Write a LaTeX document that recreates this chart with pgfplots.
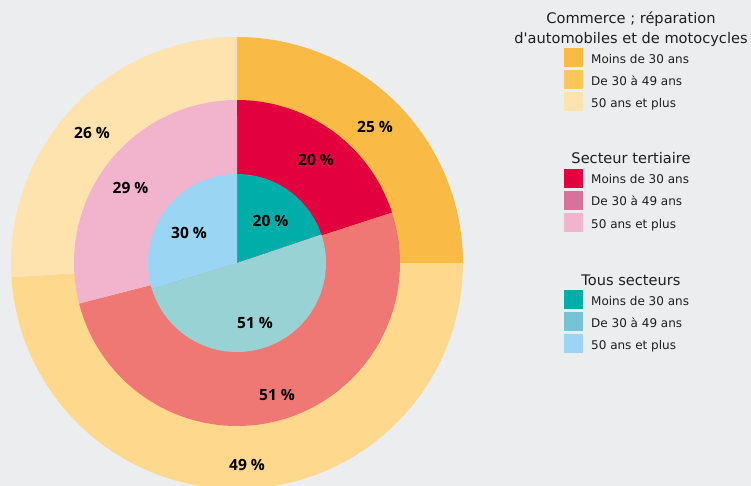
\documentclass[border=0pt]{standalone}
\usepackage{pgfplots}
\pgfplotsset{compat=1.18}
\usepackage{fontspec}
\setmainfont{DejaVu Sans}[Ligatures=TeXOff]
\newfontfamily\pctfont{Open Sans}

\definecolor{bg}{HTML}{ECEDEF}
\definecolor{txt}{HTML}{1E1E1E}
% Commerce ; reparation d'automobiles et de motocycles
\definecolor{comA}{HTML}{F9BB45}
\definecolor{comB}{HTML}{FED98D}
\definecolor{comBleg}{HTML}{FDC65A}
\definecolor{comC}{HTML}{FEE3AE}
% Secteur tertiaire
\definecolor{terA}{HTML}{E3003F}
\definecolor{terB}{HTML}{EF7874}
\definecolor{terBleg}{HTML}{D9729B}
\definecolor{terC}{HTML}{F2B3CC}
% Tous secteurs
\definecolor{touA}{HTML}{00ADA8}
\definecolor{touB}{HTML}{98D2D4}
\definecolor{touBleg}{HTML}{76C3D7}
\definecolor{touC}{HTML}{9AD5F3}

% one slice: radius, cumulative start, cumulative end, ring total, colour
\newcommand{\slice}[5]{%
  \pgfmathsetmacro\da{#2/#4*360}%
  \pgfmathsetmacro\db{#3/#4*360}%
  \edef\tmp{\noexpand\addplot[fill=#5, draw=none, domain=\da:\db, samples=120]
    ({237+#1*sin(x)},{263-#1*cos(x)}) -- (axis cs:237,263) -- cycle;}%
  \tmp}
% legend swatch: top y, colour
\newcommand{\swatch}[2]{%
  \addplot[fill=#2, draw=none] coordinates {(564,#1) (583,#1) (583,#1+19) (564,#1+19)} -- cycle;}

\begin{document}
\begin{tikzpicture}
\begin{axis}[
    scale only axis, width=751pt, height=486pt,
    xmin=0, xmax=751, ymin=0, ymax=486, y dir=reverse,
    hide axis,
  ]
  \addplot[fill=bg, draw=none] coordinates {(0,0) (751,0) (751,486) (0,486)} -- cycle;

  % outer ring: 25 / 49 / 26
  \slice{226}{0}{25}{100}{comA}
  \slice{226}{25}{74}{100}{comB}
  \slice{226}{74}{100}{100}{comC}
  % middle ring: 20 / 51 / 29
  \slice{163}{0}{20}{100}{terA}
  \slice{163}{20}{71}{100}{terB}
  \slice{163}{71}{100}{100}{terC}
  % inner ring: 20 / 51 / 30
  \slice{89}{0}{20}{101}{touA}
  \slice{89}{20}{71}{101}{touB}
  \slice{89}{71}{101}{101}{touC}

  \tikzset{pct/.style={font=\pctfont\bfseries\fontsize{15.5}{18}\selectfont, text=black, anchor=center}}
  \node[pct] at (axis cs:375,127) {25 \%};
  \node[pct] at (axis cs:247,464.5) {49 \%};
  \node[pct] at (axis cs:92,133) {26 \%};
  \node[pct] at (axis cs:316,160) {20 \%};
  \node[pct] at (axis cs:277,395) {51 \%};
  \node[pct] at (axis cs:130.5,188) {29 \%};
  \node[pct] at (axis cs:270.5,220.5) {20 \%};
  \node[pct] at (axis cs:255,323) {51 \%};
  \node[pct] at (axis cs:189,233) {30 \%};

  % legend
  \tikzset{ttl/.style={font=\fontsize{14.6}{18}\selectfont, text=txt, anchor=base},
           itm/.style={font=\fontsize{12}{14}\selectfont, text=txt, anchor=base west, inner xsep=0pt}}
  \node[ttl] at (axis cs:631,24) {Commerce ; réparation};
  \node[ttl] at (axis cs:631,43.5) {d'automobiles et de motocycles};
  \swatch{48}{comA}
  \swatch{70}{comBleg}
  \swatch{92}{comC}
  \node[itm] at (axis cs:591,64) {Moins de 30 ans};
  \node[itm] at (axis cs:591,86) {De 30 à 49 ans};
  \node[itm] at (axis cs:591,108) {50 ans et plus};

  \node[ttl] at (axis cs:631,164) {Secteur tertiaire};
  \swatch{169}{terA}
  \swatch{191}{terBleg}
  \swatch{213}{terC}
  \node[itm] at (axis cs:591,184) {Moins de 30 ans};
  \node[itm] at (axis cs:591,206) {De 30 à 49 ans};
  \node[itm] at (axis cs:591,228) {50 ans et plus};

  \node[ttl] at (axis cs:631,285) {Tous secteurs};
  \swatch{290}{touA}
  \swatch{312}{touBleg}
  \swatch{334}{touC}
  \node[itm] at (axis cs:591,305.5) {Moins de 30 ans};
  \node[itm] at (axis cs:591,327.5) {De 30 à 49 ans};
  \node[itm] at (axis cs:591,349.5) {50 ans et plus};
\end{axis}
\end{tikzpicture}
\end{document}
